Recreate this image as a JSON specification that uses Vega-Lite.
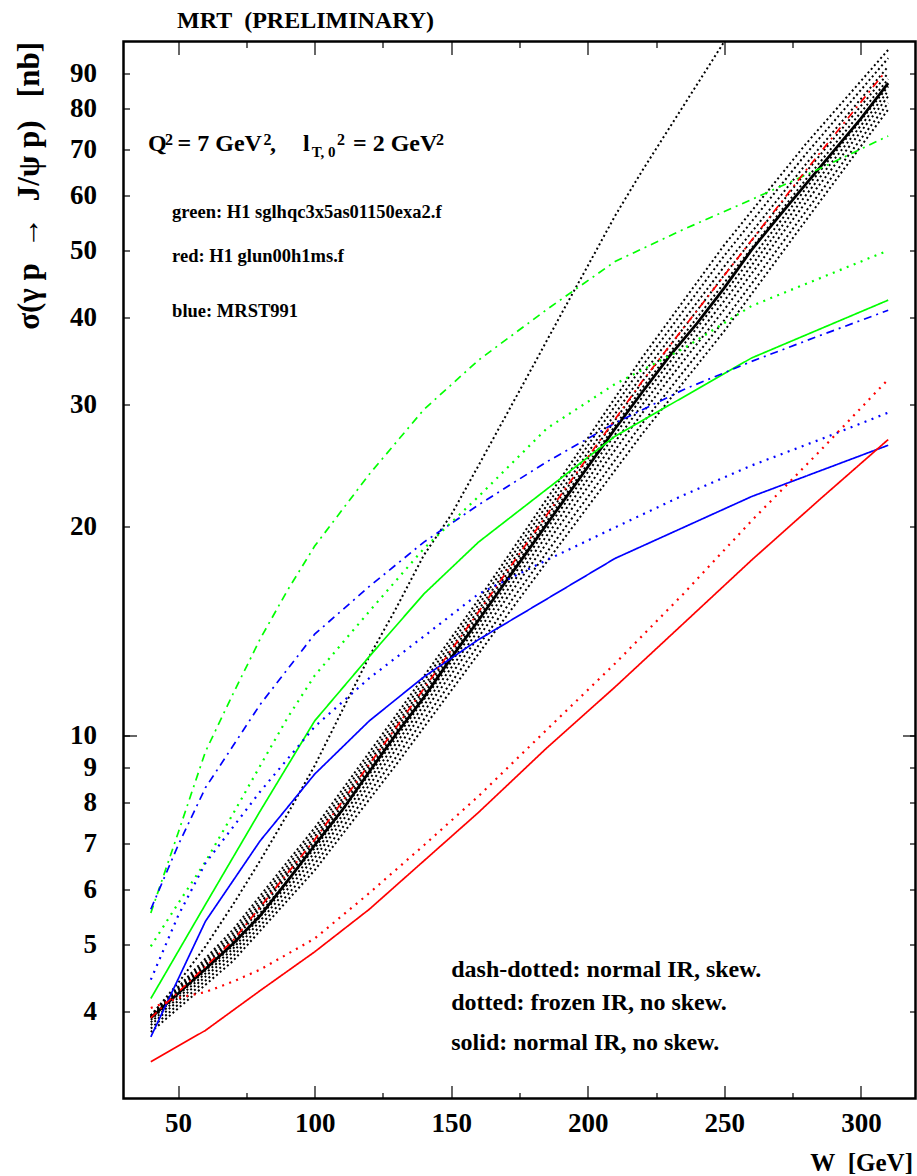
{
"$schema": "https://vega.github.io/schema/vega-lite/v6.json",
"width": 792, "height": 1057,
"autosize": {"type": "none"},
"padding": {"left": 123.5, "top": 41.5, "right": 1.5, "bottom": 77.5},
"background": "white",
"config": {
 "view": {"stroke": "black", "strokeWidth": 2.5},
 "font": "Liberation Serif",
 "axis": {"grid": false, "domain": false, "tickColor": "black", "tickWidth": 1.2, "labelFont": "Liberation Serif", "labelFontWeight": "bold", "labelFontSize": 27, "labelColor": "black", "titleFont": "Liberation Serif", "titleFontWeight": "bold", "titleColor": "black"}
},
"datasets": {
"curves": [
{"curve":"g_dd","pdf":"green","style":"dashdot","W":40,"sigma":5.55},
{"curve":"g_dd","pdf":"green","style":"dashdot","W":50,"sigma":7.24},
{"curve":"g_dd","pdf":"green","style":"dashdot","W":60,"sigma":9.48},
{"curve":"g_dd","pdf":"green","style":"dashdot","W":70,"sigma":11.46},
{"curve":"g_dd","pdf":"green","style":"dashdot","W":80,"sigma":13.77},
{"curve":"g_dd","pdf":"green","style":"dashdot","W":90,"sigma":16.18},
{"curve":"g_dd","pdf":"green","style":"dashdot","W":100,"sigma":18.75},
{"curve":"g_dd","pdf":"green","style":"dashdot","W":120,"sigma":23.8},
{"curve":"g_dd","pdf":"green","style":"dashdot","W":140,"sigma":29.5},
{"curve":"g_dd","pdf":"green","style":"dashdot","W":160,"sigma":34.75},
{"curve":"g_dd","pdf":"green","style":"dashdot","W":185,"sigma":41.1},
{"curve":"g_dd","pdf":"green","style":"dashdot","W":210,"sigma":48.2},
{"curve":"g_dd","pdf":"green","style":"dashdot","W":235,"sigma":53.6},
{"curve":"g_dd","pdf":"green","style":"dashdot","W":260,"sigma":59.2},
{"curve":"g_dd","pdf":"green","style":"dashdot","W":285,"sigma":65.6},
{"curve":"g_dd","pdf":"green","style":"dashdot","W":310,"sigma":73.1},
{"curve":"g_d","pdf":"green","style":"dotted","W":40,"sigma":4.97},
{"curve":"g_d","pdf":"green","style":"dotted","W":50,"sigma":5.73},
{"curve":"g_d","pdf":"green","style":"dotted","W":60,"sigma":6.58},
{"curve":"g_d","pdf":"green","style":"dotted","W":70,"sigma":7.7},
{"curve":"g_d","pdf":"green","style":"dotted","W":80,"sigma":9.04},
{"curve":"g_d","pdf":"green","style":"dotted","W":90,"sigma":10.6},
{"curve":"g_d","pdf":"green","style":"dotted","W":100,"sigma":12.2},
{"curve":"g_d","pdf":"green","style":"dotted","W":120,"sigma":15.1},
{"curve":"g_d","pdf":"green","style":"dotted","W":140,"sigma":18.6},
{"curve":"g_d","pdf":"green","style":"dotted","W":160,"sigma":22.1},
{"curve":"g_d","pdf":"green","style":"dotted","W":185,"sigma":27.7},
{"curve":"g_d","pdf":"green","style":"dotted","W":210,"sigma":32.1},
{"curve":"g_d","pdf":"green","style":"dotted","W":235,"sigma":36.1},
{"curve":"g_d","pdf":"green","style":"dotted","W":260,"sigma":41.6},
{"curve":"g_d","pdf":"green","style":"dotted","W":285,"sigma":45.6},
{"curve":"g_d","pdf":"green","style":"dotted","W":310,"sigma":50.0},
{"curve":"g_s","pdf":"green","style":"solid","W":40,"sigma":4.18},
{"curve":"g_s","pdf":"green","style":"solid","W":60,"sigma":5.71},
{"curve":"g_s","pdf":"green","style":"solid","W":80,"sigma":7.78},
{"curve":"g_s","pdf":"green","style":"solid","W":100,"sigma":10.5},
{"curve":"g_s","pdf":"green","style":"solid","W":120,"sigma":13.0},
{"curve":"g_s","pdf":"green","style":"solid","W":140,"sigma":16.0},
{"curve":"g_s","pdf":"green","style":"solid","W":160,"sigma":19.0},
{"curve":"g_s","pdf":"green","style":"solid","W":210,"sigma":27.0},
{"curve":"g_s","pdf":"green","style":"solid","W":260,"sigma":35.0},
{"curve":"g_s","pdf":"green","style":"solid","W":310,"sigma":42.4},
{"curve":"b_dd","pdf":"blue","style":"dashdot","W":40,"sigma":5.62},
{"curve":"b_dd","pdf":"blue","style":"dashdot","W":50,"sigma":6.95},
{"curve":"b_dd","pdf":"blue","style":"dashdot","W":60,"sigma":8.41},
{"curve":"b_dd","pdf":"blue","style":"dashdot","W":70,"sigma":9.65},
{"curve":"b_dd","pdf":"blue","style":"dashdot","W":80,"sigma":11.08},
{"curve":"b_dd","pdf":"blue","style":"dashdot","W":100,"sigma":14.0},
{"curve":"b_dd","pdf":"blue","style":"dashdot","W":120,"sigma":16.4},
{"curve":"b_dd","pdf":"blue","style":"dashdot","W":140,"sigma":19.0},
{"curve":"b_dd","pdf":"blue","style":"dashdot","W":160,"sigma":21.5},
{"curve":"b_dd","pdf":"blue","style":"dashdot","W":185,"sigma":24.8},
{"curve":"b_dd","pdf":"blue","style":"dashdot","W":210,"sigma":28.2},
{"curve":"b_dd","pdf":"blue","style":"dashdot","W":235,"sigma":31.5},
{"curve":"b_dd","pdf":"blue","style":"dashdot","W":260,"sigma":34.6},
{"curve":"b_dd","pdf":"blue","style":"dashdot","W":285,"sigma":37.7},
{"curve":"b_dd","pdf":"blue","style":"dashdot","W":310,"sigma":41.0},
{"curve":"b_d","pdf":"blue","style":"dotted","W":40,"sigma":4.45},
{"curve":"b_d","pdf":"blue","style":"dotted","W":50,"sigma":5.5},
{"curve":"b_d","pdf":"blue","style":"dotted","W":60,"sigma":6.55},
{"curve":"b_d","pdf":"blue","style":"dotted","W":80,"sigma":8.3},
{"curve":"b_d","pdf":"blue","style":"dotted","W":100,"sigma":10.3},
{"curve":"b_d","pdf":"blue","style":"dotted","W":120,"sigma":12.1},
{"curve":"b_d","pdf":"blue","style":"dotted","W":140,"sigma":13.9},
{"curve":"b_d","pdf":"blue","style":"dotted","W":160,"sigma":16.0},
{"curve":"b_d","pdf":"blue","style":"dotted","W":185,"sigma":17.9},
{"curve":"b_d","pdf":"blue","style":"dotted","W":210,"sigma":19.95},
{"curve":"b_d","pdf":"blue","style":"dotted","W":235,"sigma":22.2},
{"curve":"b_d","pdf":"blue","style":"dotted","W":260,"sigma":24.5},
{"curve":"b_d","pdf":"blue","style":"dotted","W":285,"sigma":26.7},
{"curve":"b_d","pdf":"blue","style":"dotted","W":310,"sigma":29.2},
{"curve":"b_s","pdf":"blue","style":"solid","W":40,"sigma":3.68},
{"curve":"b_s","pdf":"blue","style":"solid","W":60,"sigma":5.4},
{"curve":"b_s","pdf":"blue","style":"solid","W":80,"sigma":7.05},
{"curve":"b_s","pdf":"blue","style":"solid","W":100,"sigma":8.8},
{"curve":"b_s","pdf":"blue","style":"solid","W":120,"sigma":10.5},
{"curve":"b_s","pdf":"blue","style":"solid","W":140,"sigma":12.15},
{"curve":"b_s","pdf":"blue","style":"solid","W":160,"sigma":13.75},
{"curve":"b_s","pdf":"blue","style":"solid","W":210,"sigma":18.0},
{"curve":"b_s","pdf":"blue","style":"solid","W":260,"sigma":22.1},
{"curve":"b_s","pdf":"blue","style":"solid","W":310,"sigma":26.2},
{"curve":"r_s","pdf":"red","style":"solid","W":40,"sigma":3.39},
{"curve":"r_s","pdf":"red","style":"solid","W":60,"sigma":3.76},
{"curve":"r_s","pdf":"red","style":"solid","W":80,"sigma":4.29},
{"curve":"r_s","pdf":"red","style":"solid","W":100,"sigma":4.88},
{"curve":"r_s","pdf":"red","style":"solid","W":120,"sigma":5.62},
{"curve":"r_s","pdf":"red","style":"solid","W":140,"sigma":6.6},
{"curve":"r_s","pdf":"red","style":"solid","W":160,"sigma":7.75},
{"curve":"r_s","pdf":"red","style":"solid","W":185,"sigma":9.6},
{"curve":"r_s","pdf":"red","style":"solid","W":210,"sigma":11.75},
{"curve":"r_s","pdf":"red","style":"solid","W":235,"sigma":14.5},
{"curve":"r_s","pdf":"red","style":"solid","W":260,"sigma":17.9},
{"curve":"r_s","pdf":"red","style":"solid","W":285,"sigma":21.9},
{"curve":"r_s","pdf":"red","style":"solid","W":310,"sigma":26.7},
{"curve":"r_d","pdf":"red","style":"dotted","W":40,"sigma":4.05},
{"curve":"r_d","pdf":"red","style":"dotted","W":50,"sigma":4.19},
{"curve":"r_d","pdf":"red","style":"dotted","W":60,"sigma":4.27},
{"curve":"r_d","pdf":"red","style":"dotted","W":70,"sigma":4.42},
{"curve":"r_d","pdf":"red","style":"dotted","W":80,"sigma":4.6},
{"curve":"r_d","pdf":"red","style":"dotted","W":100,"sigma":5.1},
{"curve":"r_d","pdf":"red","style":"dotted","W":120,"sigma":5.93},
{"curve":"r_d","pdf":"red","style":"dotted","W":140,"sigma":6.95},
{"curve":"r_d","pdf":"red","style":"dotted","W":160,"sigma":8.18},
{"curve":"r_d","pdf":"red","style":"dotted","W":185,"sigma":10.2},
{"curve":"r_d","pdf":"red","style":"dotted","W":210,"sigma":12.7},
{"curve":"r_d","pdf":"red","style":"dotted","W":235,"sigma":16.0},
{"curve":"r_d","pdf":"red","style":"dotted","W":260,"sigma":20.4},
{"curve":"r_d","pdf":"red","style":"dotted","W":285,"sigma":25.7},
{"curve":"r_d","pdf":"red","style":"dotted","W":310,"sigma":32.6},
{"curve":"r_dd","pdf":"red","style":"dashdot","W":40,"sigma":3.92},
{"curve":"r_dd","pdf":"red","style":"dashdot","W":70,"sigma":5.06},
{"curve":"r_dd","pdf":"red","style":"dashdot","W":100,"sigma":7.08},
{"curve":"r_dd","pdf":"red","style":"dashdot","W":130,"sigma":10.3},
{"curve":"r_dd","pdf":"red","style":"dashdot","W":160,"sigma":15.07},
{"curve":"r_dd","pdf":"red","style":"dashdot","W":190,"sigma":22.18},
{"curve":"r_dd","pdf":"red","style":"dashdot","W":220,"sigma":32.43},
{"curve":"r_dd","pdf":"red","style":"dashdot","W":250,"sigma":46.03},
{"curve":"r_dd","pdf":"red","style":"dashdot","W":280,"sigma":65.31},
{"curve":"r_dd","pdf":"red","style":"dashdot","W":308,"sigma":89.5},
{"curve":"central","pdf":"black","style":"thick","W":40,"sigma":3.92},
{"curve":"central","pdf":"black","style":"thick","W":50,"sigma":4.25},
{"curve":"central","pdf":"black","style":"thick","W":60,"sigma":4.61},
{"curve":"central","pdf":"black","style":"thick","W":70,"sigma":5.01},
{"curve":"central","pdf":"black","style":"thick","W":80,"sigma":5.5},
{"curve":"central","pdf":"black","style":"thick","W":90,"sigma":6.17},
{"curve":"central","pdf":"black","style":"thick","W":100,"sigma":6.95},
{"curve":"central","pdf":"black","style":"thick","W":110,"sigma":7.8},
{"curve":"central","pdf":"black","style":"thick","W":120,"sigma":8.87},
{"curve":"central","pdf":"black","style":"thick","W":130,"sigma":10.07},
{"curve":"central","pdf":"black","style":"thick","W":140,"sigma":11.35},
{"curve":"central","pdf":"black","style":"thick","W":150,"sigma":12.94},
{"curve":"central","pdf":"black","style":"thick","W":160,"sigma":14.66},
{"curve":"central","pdf":"black","style":"thick","W":170,"sigma":16.67},
{"curve":"central","pdf":"black","style":"thick","W":180,"sigma":18.92},
{"curve":"central","pdf":"black","style":"thick","W":190,"sigma":21.48},
{"curve":"central","pdf":"black","style":"thick","W":200,"sigma":24.38},
{"curve":"central","pdf":"black","style":"thick","W":210,"sigma":27.67},
{"curve":"central","pdf":"black","style":"thick","W":220,"sigma":31.26},
{"curve":"central","pdf":"black","style":"thick","W":230,"sigma":35.24},
{"curve":"central","pdf":"black","style":"thick","W":240,"sigma":39.26},
{"curve":"central","pdf":"black","style":"thick","W":250,"sigma":44.16},
{"curve":"central","pdf":"black","style":"thick","W":260,"sigma":50.1},
{"curve":"central","pdf":"black","style":"thick","W":270,"sigma":56.0},
{"curve":"central","pdf":"black","style":"thick","W":280,"sigma":62.4},
{"curve":"central","pdf":"black","style":"thick","W":290,"sigma":69.5},
{"curve":"central","pdf":"black","style":"thick","W":300,"sigma":77.4},
{"curve":"central","pdf":"black","style":"thick","W":310,"sigma":87.1},
{"curve":"steep","pdf":"black","style":"band","W":40,"sigma":3.95},
{"curve":"steep","pdf":"black","style":"band","W":50,"sigma":4.4},
{"curve":"steep","pdf":"black","style":"band","W":60,"sigma":4.97},
{"curve":"steep","pdf":"black","style":"band","W":70,"sigma":5.7},
{"curve":"steep","pdf":"black","style":"band","W":80,"sigma":6.6},
{"curve":"steep","pdf":"black","style":"band","W":90,"sigma":7.7},
{"curve":"steep","pdf":"black","style":"band","W":100,"sigma":9.05},
{"curve":"steep","pdf":"black","style":"band","W":110,"sigma":10.85},
{"curve":"steep","pdf":"black","style":"band","W":120,"sigma":13.0},
{"curve":"steep","pdf":"black","style":"band","W":130,"sigma":15.3},
{"curve":"steep","pdf":"black","style":"band","W":140,"sigma":18.2},
{"curve":"steep","pdf":"black","style":"band","W":150,"sigma":20.8},
{"curve":"steep","pdf":"black","style":"band","W":160,"sigma":24.5},
{"curve":"steep","pdf":"black","style":"band","W":170,"sigma":28.9},
{"curve":"steep","pdf":"black","style":"band","W":180,"sigma":34.1},
{"curve":"steep","pdf":"black","style":"band","W":190,"sigma":40.3},
{"curve":"steep","pdf":"black","style":"band","W":200,"sigma":47.5},
{"curve":"steep","pdf":"black","style":"band","W":210,"sigma":56.1},
{"curve":"steep","pdf":"black","style":"band","W":220,"sigma":65.2},
{"curve":"steep","pdf":"black","style":"band","W":230,"sigma":75.2},
{"curve":"steep","pdf":"black","style":"band","W":240,"sigma":86.7},
{"curve":"steep","pdf":"black","style":"band","W":250,"sigma":100},
{"curve":"steep","pdf":"black","style":"band","W":260,"sigma":115},
{"curve":"b1","pdf":"black","style":"band","W":40,"sigma":3.954},
{"curve":"b1","pdf":"black","style":"band","W":70,"sigma":5.248},
{"curve":"b1","pdf":"black","style":"band","W":100,"sigma":7.362},
{"curve":"b1","pdf":"black","style":"band","W":130,"sigma":10.72},
{"curve":"b1","pdf":"black","style":"band","W":160,"sigma":15.7},
{"curve":"b1","pdf":"black","style":"band","W":190,"sigma":23.44},
{"curve":"b1","pdf":"black","style":"band","W":220,"sigma":35.08},
{"curve":"b1","pdf":"black","style":"band","W":250,"sigma":50.93},
{"curve":"b1","pdf":"black","style":"band","W":280,"sigma":71.29},
{"curve":"b1","pdf":"black","style":"band","W":310,"sigma":97.27},
{"curve":"b2","pdf":"black","style":"band","W":40,"sigma":3.945},
{"curve":"b2","pdf":"black","style":"band","W":70,"sigma":5.188},
{"curve":"b2","pdf":"black","style":"band","W":100,"sigma":7.258},
{"curve":"b2","pdf":"black","style":"band","W":130,"sigma":10.55},
{"curve":"b2","pdf":"black","style":"band","W":160,"sigma":15.43},
{"curve":"b2","pdf":"black","style":"band","W":190,"sigma":22.93},
{"curve":"b2","pdf":"black","style":"band","W":220,"sigma":34.08},
{"curve":"b2","pdf":"black","style":"band","W":250,"sigma":49.15},
{"curve":"b2","pdf":"black","style":"band","W":280,"sigma":68.94},
{"curve":"b2","pdf":"black","style":"band","W":310,"sigma":94.62},
{"curve":"b3","pdf":"black","style":"band","W":40,"sigma":3.936},
{"curve":"b3","pdf":"black","style":"band","W":70,"sigma":5.129},
{"curve":"b3","pdf":"black","style":"band","W":100,"sigma":7.153},
{"curve":"b3","pdf":"black","style":"band","W":130,"sigma":10.39},
{"curve":"b3","pdf":"black","style":"band","W":160,"sigma":15.17},
{"curve":"b3","pdf":"black","style":"band","W":190,"sigma":22.44},
{"curve":"b3","pdf":"black","style":"band","W":220,"sigma":33.11},
{"curve":"b3","pdf":"black","style":"band","W":250,"sigma":47.42},
{"curve":"b3","pdf":"black","style":"band","W":280,"sigma":66.68},
{"curve":"b3","pdf":"black","style":"band","W":310,"sigma":92.04},
{"curve":"b4","pdf":"black","style":"band","W":40,"sigma":3.929},
{"curve":"b4","pdf":"black","style":"band","W":70,"sigma":5.082},
{"curve":"b4","pdf":"black","style":"band","W":100,"sigma":7.071},
{"curve":"b4","pdf":"black","style":"band","W":130,"sigma":10.26},
{"curve":"b4","pdf":"black","style":"band","W":160,"sigma":14.96},
{"curve":"b4","pdf":"black","style":"band","W":190,"sigma":22.05},
{"curve":"b4","pdf":"black","style":"band","W":220,"sigma":32.36},
{"curve":"b4","pdf":"black","style":"band","W":250,"sigma":46.09},
{"curve":"b4","pdf":"black","style":"band","W":280,"sigma":64.93},
{"curve":"b4","pdf":"black","style":"band","W":310,"sigma":90.03},
{"curve":"b5","pdf":"black","style":"band","W":40,"sigma":3.923},
{"curve":"b5","pdf":"black","style":"band","W":70,"sigma":5.04},
{"curve":"b5","pdf":"black","style":"band","W":100,"sigma":6.998},
{"curve":"b5","pdf":"black","style":"band","W":130,"sigma":10.14},
{"curve":"b5","pdf":"black","style":"band","W":160,"sigma":14.78},
{"curve":"b5","pdf":"black","style":"band","W":190,"sigma":21.71},
{"curve":"b5","pdf":"black","style":"band","W":220,"sigma":31.7},
{"curve":"b5","pdf":"black","style":"band","W":250,"sigma":44.92},
{"curve":"b5","pdf":"black","style":"band","W":280,"sigma":63.39},
{"curve":"b5","pdf":"black","style":"band","W":310,"sigma":88.25},
{"curve":"b6","pdf":"black","style":"band","W":40,"sigma":3.896},
{"curve":"b6","pdf":"black","style":"band","W":70,"sigma":4.977},
{"curve":"b6","pdf":"black","style":"band","W":100,"sigma":6.882},
{"curve":"b6","pdf":"black","style":"band","W":130,"sigma":9.947},
{"curve":"b6","pdf":"black","style":"band","W":160,"sigma":14.46},
{"curve":"b6","pdf":"black","style":"band","W":190,"sigma":21.15},
{"curve":"b6","pdf":"black","style":"band","W":220,"sigma":30.75},
{"curve":"b6","pdf":"black","style":"band","W":250,"sigma":43.41},
{"curve":"b6","pdf":"black","style":"band","W":280,"sigma":61.49},
{"curve":"b6","pdf":"black","style":"band","W":310,"sigma":86.18},
{"curve":"b7","pdf":"black","style":"band","W":40,"sigma":3.864},
{"curve":"b7","pdf":"black","style":"band","W":70,"sigma":4.926},
{"curve":"b7","pdf":"black","style":"band","W":100,"sigma":6.78},
{"curve":"b7","pdf":"black","style":"band","W":130,"sigma":9.768},
{"curve":"b7","pdf":"black","style":"band","W":160,"sigma":14.18},
{"curve":"b7","pdf":"black","style":"band","W":190,"sigma":20.68},
{"curve":"b7","pdf":"black","style":"band","W":220,"sigma":29.99},
{"curve":"b7","pdf":"black","style":"band","W":250,"sigma":42.31},
{"curve":"b7","pdf":"black","style":"band","W":280,"sigma":60.17},
{"curve":"b7","pdf":"black","style":"band","W":310,"sigma":84.83},
{"curve":"b8","pdf":"black","style":"band","W":40,"sigma":3.828},
{"curve":"b8","pdf":"black","style":"band","W":70,"sigma":4.87},
{"curve":"b8","pdf":"black","style":"band","W":100,"sigma":6.668},
{"curve":"b8","pdf":"black","style":"band","W":130,"sigma":9.572},
{"curve":"b8","pdf":"black","style":"band","W":160,"sigma":13.87},
{"curve":"b8","pdf":"black","style":"band","W":190,"sigma":20.16},
{"curve":"b8","pdf":"black","style":"band","W":220,"sigma":29.17},
{"curve":"b8","pdf":"black","style":"band","W":250,"sigma":41.11},
{"curve":"b8","pdf":"black","style":"band","W":280,"sigma":58.75},
{"curve":"b8","pdf":"black","style":"band","W":310,"sigma":83.37},
{"curve":"b9","pdf":"black","style":"band","W":40,"sigma":3.784},
{"curve":"b9","pdf":"black","style":"band","W":70,"sigma":4.8},
{"curve":"b9","pdf":"black","style":"band","W":100,"sigma":6.531},
{"curve":"b9","pdf":"black","style":"band","W":130,"sigma":9.333},
{"curve":"b9","pdf":"black","style":"band","W":160,"sigma":13.49},
{"curve":"b9","pdf":"black","style":"band","W":190,"sigma":19.53},
{"curve":"b9","pdf":"black","style":"band","W":220,"sigma":28.18},
{"curve":"b9","pdf":"black","style":"band","W":250,"sigma":39.67},
{"curve":"b9","pdf":"black","style":"band","W":280,"sigma":57.02},
{"curve":"b9","pdf":"black","style":"band","W":310,"sigma":81.56},
{"curve":"b10","pdf":"black","style":"band","W":40,"sigma":3.741},
{"curve":"b10","pdf":"black","style":"band","W":70,"sigma":4.731},
{"curve":"b10","pdf":"black","style":"band","W":100,"sigma":6.397},
{"curve":"b10","pdf":"black","style":"band","W":130,"sigma":9.099},
{"curve":"b10","pdf":"black","style":"band","W":160,"sigma":13.12},
{"curve":"b10","pdf":"black","style":"band","W":190,"sigma":18.92},
{"curve":"b10","pdf":"black","style":"band","W":220,"sigma":27.23},
{"curve":"b10","pdf":"black","style":"band","W":250,"sigma":38.28},
{"curve":"b10","pdf":"black","style":"band","W":280,"sigma":55.34},
{"curve":"b10","pdf":"black","style":"band","W":310,"sigma":79.8}
],
"notesMain": [
{"label":"Q","W":38.97,"sigma":69.45},
{"label":"= 7 GeV","W":49.8,"sigma":69.45},
{"label":",","W":83.64,"sigma":69.45},
{"label":"l","W":95.73,"sigma":69.45},
{"label":"= 2 GeV","W":114.03,"sigma":69.45},
{"label":"dash-dotted: normal IR, skew.","W":150,"sigma":4.49},
{"label":"dotted: frozen IR, no skew.","W":150,"sigma":4.02},
{"label":"solid: normal IR, no skew.","W":150,"sigma":3.52}
],
"notesTitle": [
{"label":"MRT\u00a0\u00a0(PRELIMINARY)","W":49.6,"sigma":104.5}
],
"notesPdf": [
{"label":"green: H1 sglhqc3x5as01150exa2.f","W":47.8,"sigma":55.7},
{"label":"red: H1 glun00h1ms.f","W":47.8,"sigma":48.1},
{"label":"blue: MRST991","W":47.8,"sigma":40.1}
],
"notesSup": [
{"label":"2","W":45.2,"sigma":70.96},
{"label":"2","W":81.26,"sigma":70.96},
{"label":"2","W":108.17,"sigma":70.96},
{"label":"2","W":144.4,"sigma":70.96}
],
"notesSub": [
{"label":"T, 0","W":98.91,"sigma":68.2}
]
},
"resolve": {"scale": {"x": "shared", "y": "shared"}, "axis": {"x": "independent", "y": "independent"}},
"layer": [
{
 "data": {"name": "curves"},
 "transform": [{"filter": {"field": "style", "equal": "band"}}],
 "mark": {"type": "line", "clip": true, "color": "black", "strokeWidth": 2, "strokeDash": [2, 2.8]},
 "encoding": {
  "x": {"field": "W", "type": "quantitative", "scale": {"domain": [30, 320], "nice": false, "zero": false},
        "axis": {"orient": "bottom", "values": [50, 100, 150, 200, 250, 300], "tickSize": -13, "labelPadding": 25, "format": "d", "title": "W\u00a0\u00a0[GeV]", "titleFontSize": 25, "titleAngle": 0, "titleAlign": "right", "titleBaseline": "alphabetic", "titleX": 789, "titleY": 72}},
  "y": {"field": "sigma", "type": "quantitative", "scale": {"type": "log", "domain": [3, 100], "nice": false},
        "axis": {"orient": "left", "values": [4, 5, 6, 7, 8, 9, 10, 20, 30, 40, 50, 60, 70, 80, 90], "tickSize": -6, "labelPadding": 33, "format": "d", "title": "σ(γ p\u00a0\u00a0→\u00a0\u00a0J/ψ p)\u00a0\u00a0\u00a0[nb]", "titleFontSize": 31, "titleAngle": -90, "titleX": -94, "titleY": 0, "titleAlign": "right", "titleBaseline": "middle"}},
  "detail": {"field": "curve"}
 }
},
{
 "data": {"name": "curves"},
 "transform": [{"filter": {"field": "style", "equal": "thick"}}],
 "mark": {"type": "line", "clip": true, "color": "black", "strokeWidth": 2.8},
 "encoding": {
  "x": {"field": "W", "type": "quantitative", "axis": {"orient": "bottom", "values": [75, 125, 175, 225, 275], "tickSize": -6, "labels": false, "title": null}},
  "y": {"field": "sigma", "type": "quantitative", "axis": {"orient": "left", "values": [10], "tickSize": -13, "labels": false, "title": null}},
  "detail": {"field": "curve"}
 }
},
{
 "data": {"name": "curves"},
 "transform": [{"filter": {"field": "style", "oneOf": ["dashdot", "solid"]}}],
 "mark": {"type": "line", "clip": true, "strokeWidth": 1.7},
 "encoding": {
  "x": {"field": "W", "type": "quantitative", "axis": {"orient": "top", "values": [50, 100, 150, 200, 250, 300], "tickSize": -13, "labels": false, "title": null}},
  "y": {"field": "sigma", "type": "quantitative", "axis": {"orient": "right", "values": [4, 5, 6, 7, 8, 9, 10, 20, 30, 40, 50, 60, 70, 80, 90], "tickSize": -6, "labels": false, "title": null}},
  "color": {"field": "pdf", "type": "nominal", "scale": {"domain": ["green", "red", "blue"], "range": ["#00ff00", "#ff0000", "#0000ff"]}, "legend": null},
  "strokeDash": {"field": "style", "type": "nominal", "scale": {"domain": ["dashdot", "solid"], "range": [[8, 5, 2, 5], [1, 0]]}, "legend": null},
  "detail": {"field": "curve"}
 }
},
{
 "data": {"name": "curves"},
 "transform": [{"filter": {"field": "style", "equal": "dotted"}}],
 "mark": {"type": "line", "clip": true, "strokeWidth": 2.2, "strokeDash": [2, 5.5]},
 "encoding": {
  "x": {"field": "W", "type": "quantitative", "axis": null},
  "y": {"field": "sigma", "type": "quantitative", "axis": null},
  "color": {"field": "pdf", "type": "nominal", "scale": {"domain": ["green", "red", "blue"], "range": ["#00ff00", "#ff0000", "#0000ff"]}, "legend": null},
  "detail": {"field": "curve"}
 }
},
{
 "data": {"name": "notesMain"},
 "mark": {"type": "text", "align": "left", "baseline": "alphabetic", "font": "Liberation Serif", "fontWeight": "bold", "fontSize": 24, "color": "black"},
 "encoding": {
  "x": {"field": "W", "type": "quantitative", "axis": {"orient": "top", "values": [75, 125, 175, 225, 275], "tickSize": -6, "labels": false, "title": null}},
  "y": {"field": "sigma", "type": "quantitative", "axis": {"orient": "right", "values": [10], "tickSize": -13, "labels": false, "title": null}},
  "text": {"field": "label"}
 }
},
{
 "data": {"name": "notesTitle"},
 "mark": {"type": "text", "align": "left", "baseline": "alphabetic", "font": "Liberation Serif", "fontWeight": "bold", "fontSize": 24, "color": "black"},
 "encoding": {
  "x": {"field": "W", "type": "quantitative", "axis": null},
  "y": {"field": "sigma", "type": "quantitative", "axis": null},
  "text": {"field": "label"}
 }
},
{
 "data": {"name": "notesPdf"},
 "mark": {"type": "text", "align": "left", "baseline": "alphabetic", "font": "Liberation Serif", "fontWeight": "bold", "fontSize": 18.5, "color": "black"},
 "encoding": {
  "x": {"field": "W", "type": "quantitative", "axis": null},
  "y": {"field": "sigma", "type": "quantitative", "axis": null},
  "text": {"field": "label"}
 }
},
{
 "data": {"name": "notesSup"},
 "mark": {"type": "text", "align": "left", "baseline": "alphabetic", "font": "Liberation Serif", "fontWeight": "bold", "fontSize": 16, "color": "black"},
 "encoding": {
  "x": {"field": "W", "type": "quantitative", "axis": null},
  "y": {"field": "sigma", "type": "quantitative", "axis": null},
  "text": {"field": "label"}
 }
},
{
 "data": {"name": "notesSub"},
 "mark": {"type": "text", "align": "left", "baseline": "alphabetic", "font": "Liberation Serif", "fontWeight": "bold", "fontSize": 15, "color": "black"},
 "encoding": {
  "x": {"field": "W", "type": "quantitative", "axis": null},
  "y": {"field": "sigma", "type": "quantitative", "axis": null},
  "text": {"field": "label"}
 }
}
]
}
